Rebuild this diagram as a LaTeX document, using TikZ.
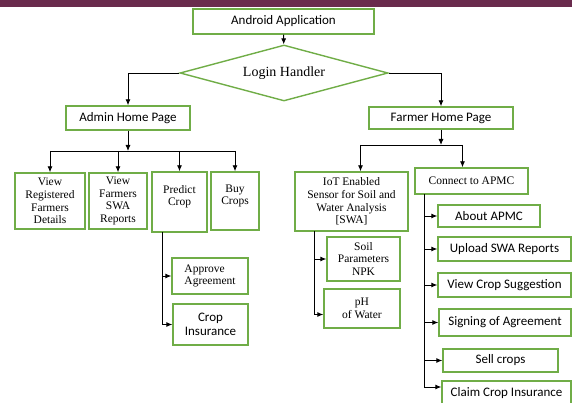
\documentclass[tikz,border=0pt]{standalone}
\usepackage{fontspec}
\setmainfont{Liberation Serif}
\setsansfont{Carlito}
\usepackage{tikz}
\usetikzlibrary{shapes.geometric,arrows.meta}
\definecolor{boxgreen}{HTML}{70AD47}
\definecolor{barpurple}{HTML}{6A2B4D}

\begin{document}
\begin{tikzpicture}[x=1pt,y=-1pt,>={Latex[length=6pt,width=5pt]},
  box/.style={draw=boxgreen, line width=1.4pt, fill=white, inner sep=0pt, align=center, font=\fontsize{11.5}{12.7}\selectfont},
  sbox/.style={box, font=\sffamily\fontsize{13}{14.5}\selectfont},
  link/.style={black, line width=0.9pt}]
\useasboundingbox (0,0) rectangle (572,403);
\clip (0,0) rectangle (572,403);
\fill[barpurple] (0,0) rectangle (572,7);

\node[sbox, minimum width=181, minimum height=25] (app) at (283.5,21.5) {Android Application};
\node[diamond, shape aspect=3.7, draw=boxgreen, line width=1.4pt, minimum width=208, minimum height=56, inner sep=0pt, font=\fontsize{14}{16}\selectfont] (login) at (284,73) {Login Handler};
\node[sbox, minimum width=124, minimum height=24] (admin) at (128,118) {Admin Home Page};
\node[sbox, minimum width=144, minimum height=22] (farmer) at (441,118) {Farmer Home Page};

\draw[link,->] (app) -- (login);
\draw[link,->] (login.west) -| (admin);
\draw[link,->] (login.east) -| (farmer);

\node[box, minimum width=70, minimum height=56] (viewreg) at (50,201) {View\\Registered\\Farmers\\Details};
\node[box, minimum width=58, minimum height=56] (viewswa) at (118,201) {View\\Farmers\\SWA\\Reports};
\node[box, minimum width=55, minimum height=60] (predict) at (179.5,202) {Predict\\Crop\\\mbox{}};
\node[box, minimum width=48, minimum height=58] (buy) at (235,201) {Buy\\Crops\\\mbox{}};

\coordinate (abus) at (128,151);
\draw[link,->] (admin.south) -- (abus);
\draw[link] (viewreg.north |- abus) -- (buy.north |- abus);
\foreach \n in {viewreg,viewswa,predict,buy}{
\draw[link,->] (\n.north |- abus) -- (\n.north);
}

\node[box, align=left, minimum width=76, minimum height=36] (approve) at (210,276) {Approve\\Agreement};
\node[sbox, minimum width=75, minimum height=41] (insure) at (210.5,324.5) {Crop\\Insurance};
\coordinate (pspine) at (162,232);
\draw[link,->] (pspine) |- (insure.west);
\draw[link,->] (pspine |- approve.west) -- (approve.west);

\node[box, minimum width=113, minimum height=59] (iot) at (351.5,201.5) {IoT Enabled\\Sensor for Soil and\\Water Analysis\\{[SWA]}};
\node[box, minimum width=113, minimum height=26] (apmc) at (471.5,181) {Connect to APMC};
\coordinate (fbus) at (441,145);
\draw[link,->] (farmer.south) -- (fbus);
\draw[link] ([xshift=9pt]iot.north |- fbus) -- ([xshift=-9pt]apmc.north |- fbus);
\draw[link,->] ([xshift=9pt]iot.north |- fbus) -- ([xshift=9pt]iot.north);
\draw[link,->] ([xshift=-9pt]apmc.north |- fbus) -- ([xshift=-9pt]apmc.north);

\node[box, minimum width=73, minimum height=44] (soil) at (363.5,259) {Soil\\Parameters\\NPK};
\node[box, minimum width=76, minimum height=39] (ph) at (362,308.5) {pH\\of Water};
\coordinate (ispine) at (314,231);
\draw[link,->] (ispine) |- ([yshift=-6pt]ph.west);
\draw[link,->] (ispine |- soil.west) -- (soil.west);

\node[sbox, minimum width=102, minimum height=22] (about) at (489,216) {About APMC};
\node[sbox, minimum width=133, minimum height=24] (upload) at (504.5,249) {Upload SWA Reports};
\node[sbox, minimum width=133, minimum height=24] (viewsug) at (504.5,285) {View Crop Suggestion};
\node[sbox, minimum width=132, minimum height=27] (signing) at (505,322.5) {Signing of Agreement};
\node[sbox, minimum width=115, minimum height=23] (sell) at (500.5,360.5) {Sell crops};
\node[sbox, minimum width=129, minimum height=24] (claim) at (506.5,393) {Claim Crop Insurance};
\coordinate (cspine) at (424,194);
\draw[link,->] (cspine) |- ([yshift=6pt]claim.west);
\foreach \n in {about,upload,viewsug,signing,sell}{
\draw[link,->] (cspine |- \n.west) -- (\n.west);
}
\end{tikzpicture}
\end{document}
